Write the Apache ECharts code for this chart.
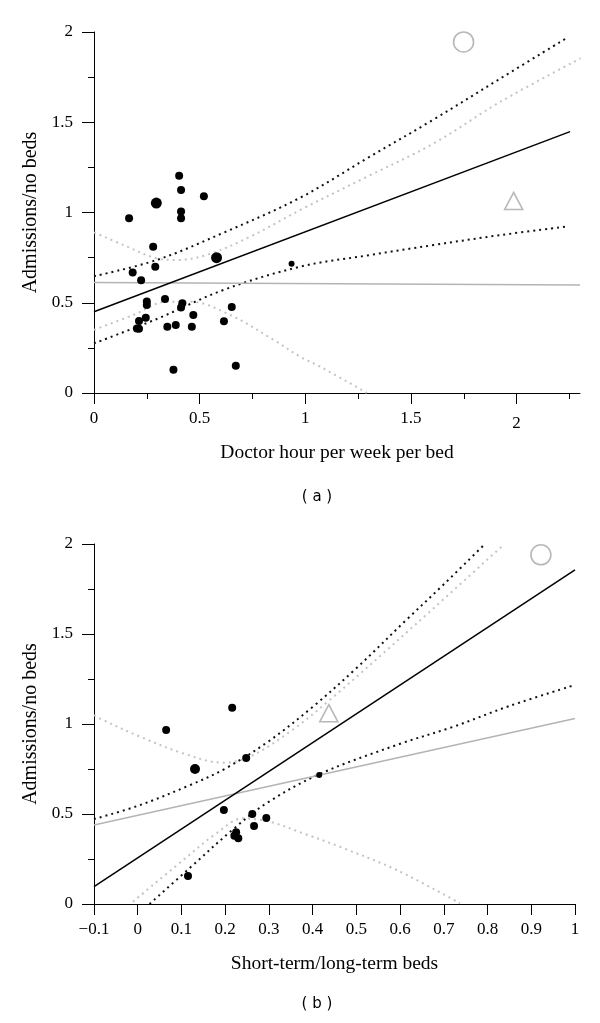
<!DOCTYPE html>
<html>
<head>
<meta charset="utf-8">
<script src="https://cdn.jsdelivr.net/npm/echarts@6/dist/echarts.min.js"></script>
<style>html,body{margin:0;padding:0;background:#fff}#c{width:600px;height:1023px}</style>
</head>
<body>
<div id="c"></div>
<script>
// ---------- Panel (a): Doctor hour per week per bed ----------
const aPoints = [
  [0.403,1.204],[0.412,1.125],[0.52,1.09],[0.412,1.005],[0.412,0.968],[0.166,0.968],
  [0.28,0.81],[0.29,0.70],[0.183,0.667],[0.223,0.624],[0.336,0.521],
  [0.418,0.497],[0.412,0.473],[0.25,0.507],[0.25,0.488],[0.652,0.476],[0.47,0.432],
  [0.245,0.417],[0.213,0.399],[0.615,0.397],[0.203,0.358],[0.213,0.356],
  [0.347,0.367],[0.387,0.377],[0.463,0.367],[0.376,0.129],[0.671,0.151]
];
const aPointsLarge = [[0.295,1.052],[0.58,0.75]];
const aPointsSmall = [[0.935,0.716]];
const aCircle = [[1.749,1.945]];
const aTriangle = [[1.986,1.064]];
const aFit = [[0,0.45],[2.253,1.448]];
const aFitGray = [[0,0.612],[2.3,0.598]];
const aCiUpper = [[0,0.647],[0.297,0.737],[0.613,0.888],[0.976,1.082],[1.292,1.30],[1.608,1.516],[1.924,1.743],[2.24,1.969]];
const aCiLower = [[0,0.275],[0.297,0.41],[0.613,0.571],[0.976,0.70],[1.292,0.762],[1.608,0.82],[1.924,0.875],[2.232,0.921]];
const aGrayUpper = [[0,0.89],[0.139,0.82],[0.297,0.746],[0.392,0.737],[0.534,0.765],[0.739,0.866],[0.976,1.014],[1.292,1.198],[1.608,1.383],[1.924,1.614],[2.303,1.854]];
const aGrayLower = [[0,0.35],[0.186,0.432],[0.345,0.506],[0.455,0.506],[0.645,0.432],[0.85,0.294],[0.976,0.201],[1.071,0.146],[1.292,0]];
const aXLabels = [0,0.5,1,1.5,2];
const aXMinor = [0.25,0.75,1.25,1.75,2.25];

// ---------- Panel (b): Short-term/long-term beds ----------
const bPoints = [
  [0.216,1.09],[0.065,0.967],[0.248,0.811],[0.197,0.522],[0.262,0.50],[0.294,0.478],
  [0.266,0.433],[0.225,0.398],[0.221,0.379],[0.23,0.365],[0.115,0.156]
];
const bPointsLarge = [[0.131,0.75]];
const bPointsSmall = [[0.415,0.717]];
const bCircle = [[0.922,1.94]];
const bTriangle = [[0.437,1.06]];
const bFit = [[-0.1,0.096],[1,1.856]];
const bFitGray = [[-0.1,0.439],[1,1.031]];
const bCiUpper = [[-0.1,0.472],[0,0.545],[0.119,0.66],[0.2,0.752],[0.3,0.905],[0.4,1.095],[0.5,1.31],[0.615,1.58],[0.7,1.776],[0.794,2.0]];
const bCiLower = [[0.027,0],[0.119,0.2],[0.218,0.415],[0.294,0.559],[0.416,0.722],[0.6,0.89],[0.722,0.985],[0.85,1.1],[1,1.217]];
const bGrayUpper = [[-0.1,1.05],[-0.087,1.031],[0.005,0.93],[0.104,0.837],[0.195,0.785],[0.256,0.818],[0.348,0.957],[0.439,1.133],[0.638,1.559],[0.836,1.994]];
const bGrayLower = [[-0.011,0.013],[0.104,0.244],[0.18,0.393],[0.241,0.476],[0.302,0.457],[0.378,0.393],[0.462,0.318],[0.592,0.189],[0.737,0.004]];
const bXTicks = [-0.1,0,0.1,0.2,0.3,0.4,0.5,0.6,0.7,0.8,0.9,1];

const yLabel = 'Admissions/no beds';
const aXName = 'Doctor hour per week per bed';
const bXName = 'Short-term/long-term beds';

const SERIF = '"Liberation Serif", "Times New Roman", serif';
const labelStyle = {color:'#000', fontFamily:SERIF, fontSize:17};
const axisLineStyle = {color:'#000', width:1};

function yAxisFor(g){
  return {
    gridIndex:g, type:'value', min:0, max:2, interval:0.5,
    name: yLabel, nameLocation:'middle', nameGap:52, nameRotate:90,
    nameTextStyle:{color:'#000', fontFamily:SERIF, fontSize:20},
    axisLine:{show:true, onZero:false, lineStyle:axisLineStyle},
    axisTick:{show:true, length:12, lineStyle:axisLineStyle},
    minorTick:{show:true, splitNumber:2, length:6, lineStyle:axisLineStyle},
    axisLabel:{...labelStyle, margin:21, formatter:v=>String(v)},
    splitLine:{show:false}, minorSplitLine:{show:false}
  };
}

const lineBase = (xi, yi, data, style, smooth) => ({
  type:'line', xAxisIndex:xi, yAxisIndex:yi, data, showSymbol:false, symbol:'none',
  smooth: smooth ? 0.35 : false, lineStyle:style, silent:true, z:2, animation:false
});
const blackSolid = {color:'#000', width:1.5};
const graySolid = {color:'#b4b4b4', width:1.5};
const blackDot = {color:'#111', width:2, type:[2,4]};
const grayDot = {color:'#c4c4c4', width:2, type:[2,4]};

function scatter(xi, yi, data, size){
  return {type:'scatter', xAxisIndex:xi, yAxisIndex:yi, data, symbol:'circle', symbolSize:size,
    itemStyle:{color:'#000', opacity:1}, z:5, silent:true, animation:false};
}
function openMark(xi, yi, data, symbol, size){
  return {type:'scatter', xAxisIndex:xi, yAxisIndex:yi, data, symbol, symbolSize:size,
    itemStyle:{color:'rgba(0,0,0,0)', borderColor:'#b8b8b8', borderWidth:1.6, opacity:1}, z:4, silent:true, animation:false};
}

const option = {
  backgroundColor:'#fff',
  animation:false,
  grid:[
    {left:94, right:20, top:32, height:361},
    {left:94, right:25, top:544, height:360}
  ],
  xAxis:[
    {gridIndex:0, type:'value', min:0, max:2.3, position:'bottom',
     name:aXName, nameLocation:'middle', nameGap:50,
     nameTextStyle:{color:'#000', fontFamily:SERIF, fontSize:19.5},
     axisLine:{onZero:false, lineStyle:axisLineStyle},
     axisTick:{show:true, length:11, customValues:aXLabels, lineStyle:axisLineStyle},
     axisLabel:{...labelStyle, margin:17, customValues:aXLabels,
       formatter:v=> v===2 ? '{low|2}' : String(v),
       rich:{low:{color:'#000', fontFamily:SERIF, fontSize:17, padding:[5,0,0,0]}}},
     splitLine:{show:false}},
    {gridIndex:0, type:'value', min:0, max:2.3, position:'bottom',
     axisLine:{show:false, onZero:false},
     axisTick:{show:true, length:6, customValues:aXMinor, lineStyle:axisLineStyle},
     axisLabel:{show:false}, splitLine:{show:false}},
    {gridIndex:1, type:'value', min:-0.1, max:1, position:'bottom',
     name:bXName, nameLocation:'middle', nameGap:50,
     nameTextStyle:{color:'#000', fontFamily:SERIF, fontSize:19.5},
     axisLine:{onZero:false, lineStyle:axisLineStyle},
     axisTick:{show:true, length:11, customValues:bXTicks, lineStyle:axisLineStyle},
     axisLabel:{...labelStyle, margin:17, customValues:bXTicks,
       formatter:v=>{const s=String(Math.round(v*10)/10); return s.replace('-', '\u2212');}},
     splitLine:{show:false}}
  ],
  yAxis:[yAxisFor(0), yAxisFor(1)],
  graphic:[
    {type:'text', x:317, y:497, style:{text:'( a )', fill:'#000', font:'15px "DejaVu Sans", sans-serif', align:'center', verticalAlign:'middle'}},
    {type:'text', x:317, y:1004, style:{text:'( b )', fill:'#000', font:'15px "DejaVu Sans", sans-serif', align:'center', verticalAlign:'middle'}}
  ],
  series:[
    lineBase(0,0,aGrayUpper,grayDot,true),
    lineBase(0,0,aGrayLower,grayDot,true),
    lineBase(0,0,aCiUpper,blackDot,true),
    lineBase(0,0,aCiLower,blackDot,true),
    lineBase(0,0,aFitGray,graySolid,false),
    lineBase(0,0,aFit,blackSolid,false),
    scatter(0,0,aPoints,8),
    scatter(0,0,aPointsLarge,11),
    scatter(0,0,aPointsSmall,6),
    openMark(0,0,aCircle,'circle',20),
    openMark(0,0,aTriangle,'triangle',[18,17]),

    lineBase(2,1,bGrayUpper,grayDot,true),
    lineBase(2,1,bGrayLower,grayDot,true),
    lineBase(2,1,bCiUpper,blackDot,true),
    lineBase(2,1,bCiLower,blackDot,true),
    lineBase(2,1,bFitGray,graySolid,false),
    lineBase(2,1,bFit,blackSolid,false),
    scatter(2,1,bPoints,8),
    scatter(2,1,bPointsLarge,10),
    scatter(2,1,bPointsSmall,6),
    openMark(2,1,bCircle,'circle',20),
    openMark(2,1,bTriangle,'triangle',[18,17])
  ]
};
const chart = echarts.init(document.getElementById('c'), null, {renderer:'canvas'});
chart.setOption(option);
</script>
</body>
</html>
